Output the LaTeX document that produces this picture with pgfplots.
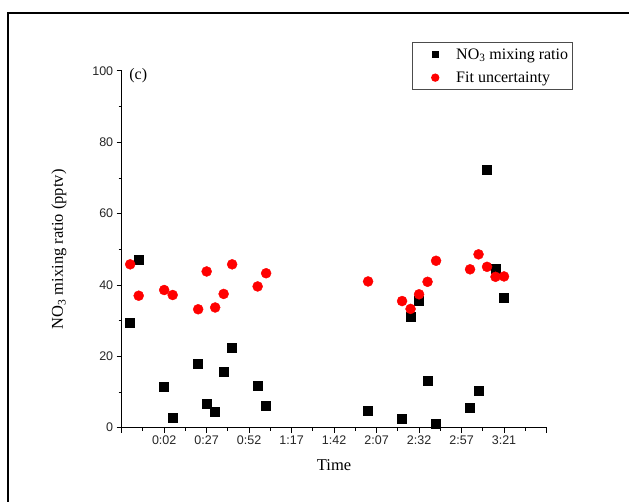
\documentclass[border=0pt]{standalone}
\usepackage{fontspec}
\setmainfont{Liberation Serif}
\newfontfamily\arial{Liberation Sans}
\usepackage{pgfplots}
\pgfplotsset{compat=1.18}
\begin{document}
\begin{tikzpicture}[x=1pt,y=1pt]
\useasboundingbox (0,0) rectangle (629,502);
\fill[white] (0,0) rectangle (629,502);
\draw[line width=1.8pt] (8,0) -- (8,489) -- (629,489);
\begin{axis}[
  at={(121.7pt,74.3pt)}, anchor=south west,
  scale only axis, width=424.8pt, height=356.7pt,
  xmin=-1, xmax=9, ymin=0, ymax=100,
  clip=false,
  axis x line*=bottom, axis y line*=left,
  axis line style={line width=1pt},
  tick align=outside,
  major tick length=5pt, minor tick length=3pt,
  tick style={black, line width=1pt},
  xtick={-1,0,1,2,3,4,5,6,7,8,9},
  xticklabels={{},0:02,0:27,0:52,1:17,1:42,2:07,2:32,2:57,3:21,{}},
  minor x tick num=1,
  ytick={0,20,40,60,80,100},
  minor y tick num=1,
  /pgf/number format/assume math mode=true,
  ticklabel style={font=\arial\fontsize{12.5}{14}\selectfont, color=black!85},
  xlabel={Time},
  ylabel={NO\textsubscript{3} mixing ratio (pptv)},
  label style={font=\fontsize{16.5}{18}\selectfont},
  xlabel style={at={(axis description cs:0.5,-0.1046)}, anchor=center},
  ylabel style={at={(axis description cs:-0.1476,0.5)}, anchor=center},
  legend style={at={(axis description cs:0.683,1.081)}, anchor=north west,
    draw=black!70, line width=0.8pt, font=\fontsize{16}{18}\selectfont,
    row sep=7pt, inner xsep=2pt, inner ysep=4pt},
  legend cell align=left,
]
\addplot[only marks, mark=square*, mark size=4.5pt, black,
  legend image code/.code={\path[draw=none,fill=none] (0pt,-0.1pt) rectangle (40pt,0.1pt);
    \path[fill=black,draw=none] (17.5pt,-3.5pt) rectangle (24.5pt,3.5pt);}] coordinates {
(-0.8,29.4) (-0.6,47.2) (0,11.6) (0.2,2.7) (0.8,17.9) (1.0,6.6) (1.2,4.6)
(1.4,15.6) (1.6,22.4) (2.2,11.8) (2.4,6.3) (4.8,4.8) (5.6,2.5) (5.8,31.0)
(6.0,35.5) (6.2,13.1) (6.4,1.1) (7.2,5.7) (7.4,10.5) (7.6,72.2) (7.8,44.6) (8.0,36.4)
};
\addlegendentry{NO\textsubscript{3} mixing ratio}
\addplot[only marks, mark=*, mark size=5pt, red, mark options={fill=red, draw=red},
  legend image code/.code={\path[draw=none,fill=none] (0pt,-0.1pt) rectangle (40pt,0.1pt);
    \path[fill=red,draw=none] (21pt,0pt) circle[radius=4.2pt];}] coordinates {
(-0.8,45.8) (-0.6,37.0) (0,38.6) (0.2,37.2) (0.8,33.2) (1.0,43.8) (1.2,33.7)
(1.4,37.5) (1.6,45.8) (2.2,39.6) (2.4,43.3) (4.8,41.0) (5.6,35.5) (5.8,33.3)
(6.0,37.4) (6.2,40.9) (6.4,46.8) (7.2,44.4) (7.4,48.6) (7.6,45.1) (7.8,42.3) (8.0,42.4)
};
\addlegendentry{Fit uncertainty}
\node[font=\fontsize{16}{18}\selectfont] at (axis cs:-0.61,98.6) {(c)};
\end{axis}
\end{tikzpicture}
\end{document}
